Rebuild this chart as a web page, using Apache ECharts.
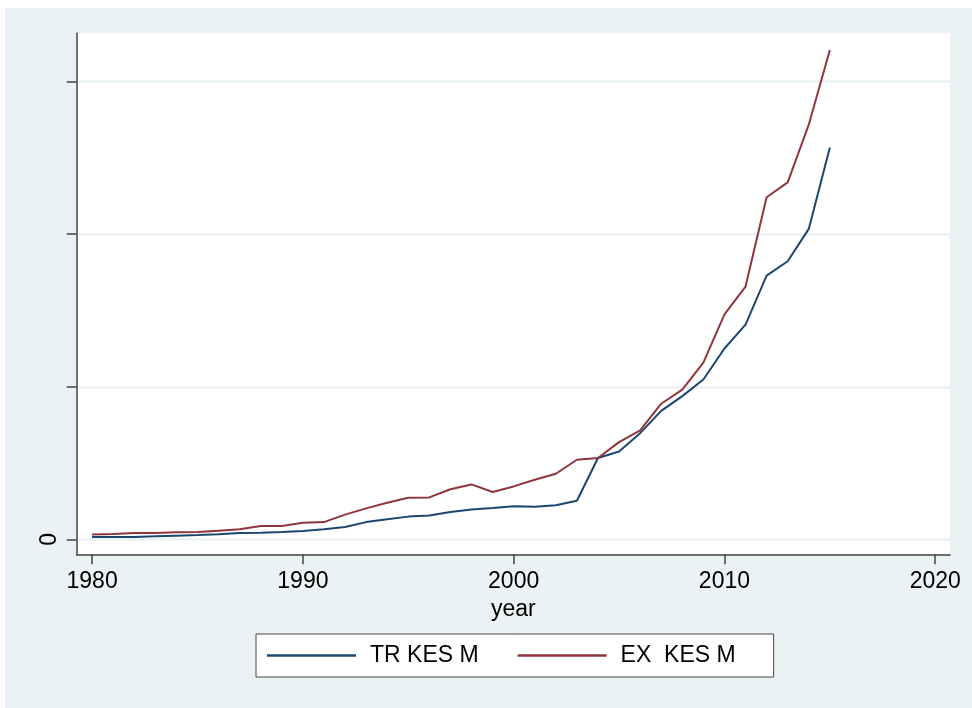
<!DOCTYPE html>
<html>
<head>
<meta charset="utf-8">
<script src="https://cdn.jsdelivr.net/npm/echarts@6/dist/echarts.min.js"></script>
<style>
    html, body { margin: 0; padding: 0; background: #ffffff; }
    #chart { position: absolute; left: 5px; top: 8px; width: 967px; height: 700px; }
</style>
</head>
<body>
<div id="chart"></div>
<script>
    // data (y in units of one gridline step)
    var years = [1980, 1981, 1982, 1983, 1984, 1985, 1986, 1987, 1988, 1989,
        1990, 1991, 1992, 1993, 1994, 1995, 1996, 1997, 1998, 1999,
        2000, 2001, 2002, 2003, 2004, 2005, 2006, 2007, 2008, 2009,
        2010, 2011, 2012, 2013, 2014, 2015];
    var trKes = [0.015, 0.015, 0.016, 0.020, 0.024, 0.028, 0.033, 0.041, 0.044, 0.048,
        0.054, 0.066, 0.081, 0.113, 0.131, 0.149, 0.157, 0.179, 0.195, 0.205,
        0.217, 0.213, 0.224, 0.253, 0.533, 0.576, 0.696, 0.842, 0.939, 1.048,
        1.251, 1.408, 1.729, 1.823, 2.035, 2.568];
    var exKes = [0.031, 0.035, 0.041, 0.041, 0.046, 0.048, 0.057, 0.066, 0.087, 0.087,
        0.109, 0.113, 0.162, 0.203, 0.240, 0.273, 0.275, 0.328, 0.360, 0.310,
        0.347, 0.391, 0.430, 0.522, 0.533, 0.637, 0.714, 0.889, 0.981, 1.159,
        1.474, 1.657, 2.242, 2.340, 2.718, 3.208];
    var xTicks = [1980, 1990, 2000, 2010, 2020];
    var yTicks = [0, 1, 2, 3];
    var seriesNames = ['TR KES M', 'EX  KES M'];

    var font = '"Liberation Sans", Arial, sans-serif';
    var chart = echarts.init(document.getElementById('chart'));

    function pairs(vals) {
        var out = [];
        for (var i = 0; i < years.length; i++) {
            out.push([years[i], vals[i]]);
        }
        return out;
    }

    chart.setOption({
        backgroundColor: '#eaf2f3',
        animation: false,
        grid: {
            left: 71.7,
            top: 25.3,
            right: 22,
            bottom: 153.7,
            show: true,
            backgroundColor: '#ffffff',
            borderWidth: 0
        },
        legend: {
            left: 251,
            top: 626,
            padding: [10, 38, 10, 11],
            backgroundColor: '#ffffff',
            borderColor: '#444444',
            borderWidth: 1,
            borderRadius: 0,
            icon: 'rect',
            itemWidth: 89,
            itemHeight: 2.5,
            itemGap: 39,
            textStyle: { fontFamily: font, fontSize: 23, color: '#000000', padding: [0, 0, 0, 9] },
            data: seriesNames
        },
        xAxis: {
            type: 'value',
            min: 1979.27,
            max: 2020.7,
            name: 'year',
            nameLocation: 'middle',
            nameGap: 40,
            nameTextStyle: { fontFamily: font, fontSize: 23, color: '#000000' },
            axisLine: { onZero: false, lineStyle: { color: '#444444', width: 1.5 } },
            axisTick: { customValues: xTicks, length: 10, lineStyle: { color: '#444444', width: 1.5 } },
            axisLabel: {
                customValues: xTicks,
                margin: 16,
                fontFamily: font,
                fontSize: 23,
                color: '#000000',
                formatter: function (v) { return String(v); }
            },
            splitLine: { show: false }
        },
        yAxis: {
            type: 'value',
            min: -0.098,
            max: 3.317,
            axisLine: { show: true, lineStyle: { color: '#444444', width: 1.5 } },
            axisTick: { show: true, customValues: yTicks, length: 10, lineStyle: { color: '#444444', width: 1.5 } },
            axisLabel: {
                customValues: yTicks,
                rotate: 90,
                margin: 16,
                fontFamily: font,
                fontSize: 23,
                color: '#000000',
                formatter: function (v) { return v === 0 ? '0' : ''; }
            },
            splitLine: { show: true, lineStyle: { color: '#eaf2f3', width: 2.5 } }
        },
        series: [
            {
                name: seriesNames[0],
                type: 'line',
                symbol: 'none',
                lineStyle: { color: '#1a476f', width: 2 },
                itemStyle: { color: '#1a476f' },
                data: pairs(trKes)
            },
            {
                name: seriesNames[1],
                type: 'line',
                symbol: 'none',
                lineStyle: { color: '#90353b', width: 2 },
                itemStyle: { color: '#90353b' },
                data: pairs(exKes)
            }
        ]
    });
</script>
</body>
</html>
